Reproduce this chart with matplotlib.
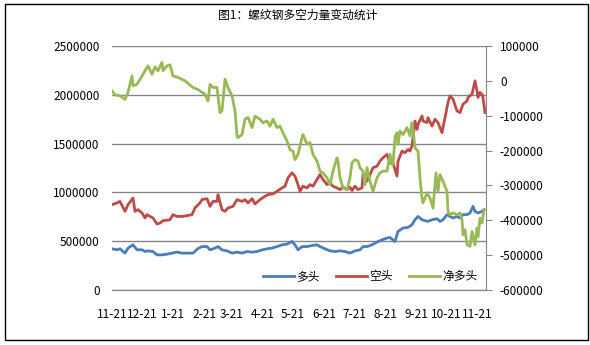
import matplotlib
matplotlib.use("Agg")
import matplotlib.pyplot as plt
import numpy as np
import pandas as pd
from matplotlib.patches import Rectangle

plt.rcParams["font.family"] = ["Noto Sans CJK SC", "DejaVu Sans"]
plt.rcParams["font.size"] = 8.5

# Data: days counted from 2020-11-21
START = pd.Timestamp("2020-11-21")

long_days = [0, 5, 8, 13, 16, 21, 25, 30, 33, 36, 41, 45, 50, 55, 60, 65, 70, 76, 81,
             86, 90, 95, 98, 103, 106, 110, 115, 120, 125, 130, 135, 140, 145, 150,
             155, 160, 165, 170, 175, 180, 183, 186, 190, 195, 200, 205, 208, 213,
             218, 223, 228, 233, 238, 243, 248, 251, 255, 260, 265, 270, 275, 278,
             283, 286, 291, 296, 300, 303, 306, 310, 313, 316, 320, 325, 328, 331,
             335, 338, 341, 345, 348, 351, 355, 358, 361, 363, 366, 370, 372]
long_pos = [422000, 412000, 422000, 378000, 429000, 463000, 412000, 412000, 394000,
            401000, 394000, 360000, 360000, 367000, 378000, 388000, 378000, 378000,
            378000, 425000, 445000, 445000, 411000, 429000, 445000, 411000, 401000,
            378000, 388000, 378000, 394000, 388000, 394000, 411000, 422000, 429000,
            445000, 463000, 470000, 497000, 463000, 411000, 445000, 445000, 456000,
            463000, 445000, 422000, 401000, 394000, 401000, 394000, 378000, 401000,
            411000, 445000, 445000, 463000, 491000, 514000, 532000, 538000, 497000,
            600000, 635000, 641000, 669000, 720000, 754000, 720000, 710000, 703000,
            720000, 730000, 703000, 720000, 772000, 754000, 738000, 754000, 738000,
            772000, 772000, 789000, 857000, 806000, 789000, 806000, 823000]

short_days = [0, 5, 8, 13, 16, 21, 23, 26, 30, 33, 35, 38, 41, 45, 48, 51, 58, 61, 65,
              71, 80, 83, 88, 90, 95, 98, 101, 105, 106, 110, 113, 116, 121, 125, 130,
              133, 136, 140, 143, 148, 153, 156, 161, 165, 170, 173, 176, 180, 183,
              186, 188, 191, 195, 198, 201, 205, 208, 211, 215, 218, 221, 225, 228,
              231, 235, 238, 240, 243, 246, 250, 251, 255, 258, 261, 265, 268, 271,
              275, 278, 281, 285, 286, 290, 293, 296, 298, 300, 301, 303, 305, 306,
              310, 311, 315, 316, 320, 323, 326, 330, 333, 336, 338, 341, 345, 348,
              351, 355, 356, 360, 363, 365, 366, 368, 370, 371, 373]
short_pos = [874000, 892000, 908000, 806000, 874000, 943000, 806000, 823000, 789000,
             738000, 772000, 754000, 738000, 676000, 686000, 710000, 720000, 772000,
             754000, 754000, 772000, 841000, 892000, 926000, 936000, 857000, 908000,
             908000, 977000, 823000, 806000, 841000, 857000, 926000, 908000, 926000,
             892000, 936000, 882000, 926000, 960000, 977000, 985000, 1011000, 1046000,
             1063000, 1149000, 1201000, 1166000, 1080000, 1011000, 1063000, 1046000,
             1080000, 1063000, 1132000, 1183000, 1132000, 1080000, 1098000, 1063000,
             1046000, 1029000, 1052000, 1029000, 1052000, 1019000, 1063000, 1029000,
             1046000, 1183000, 1114000, 1183000, 1252000, 1269000, 1320000, 1355000,
             1389000, 1303000, 1300000, 1166000, 1320000, 1423000, 1406000, 1440000,
             1423000, 1475000, 1561000, 1731000, 1646000, 1697000, 1783000, 1731000,
             1715000, 1766000, 1680000, 1749000, 1715000, 1612000, 1766000, 1921000,
             1989000, 1955000, 1835000, 1818000, 1903000, 1937000, 1972000, 2006000,
             2143000, 2040000, 1972000, 2024000, 2006000, 1972000, 1818000]

net_days = [0, 3, 8, 13, 16, 20, 21, 25, 30, 35, 36, 40, 43, 46, 50, 51, 55, 58, 61,
            66, 73, 81, 86, 90, 93, 96, 98, 101, 105, 108, 110, 113, 116, 120, 123,
            125, 126, 130, 133, 136, 140, 143, 148, 151, 155, 158, 161, 165, 168, 171,
            175, 178, 181, 183, 186, 190, 191, 195, 198, 201, 205, 208, 211, 215, 218,
            221, 225, 226, 228, 231, 235, 238, 240, 243, 246, 248, 251, 253, 255, 258,
            261, 265, 268, 271, 275, 278, 280, 281, 283, 285, 286, 288, 291, 295, 298,
            300, 301, 303, 306, 308, 310, 311, 315, 318, 321, 324, 326, 328, 331, 335,
            336, 338, 341, 345, 348, 350, 351, 353, 355, 358, 360, 363, 365, 366, 368,
            370, 372]
net_pos = [-29000, -40000, -43000, -53000, -33000, 14000, -14000, -10000, 14000, 39000,
           43000, 19000, 40000, 29000, 53000, 29000, 43000, 46000, 14000, 10000, 0,
           -19000, -25000, -33000, -38000, -58000, -10000, -19000, -19000, -91000,
           -86000, 5000, -19000, -43000, -86000, -158000, -163000, -154000, -110000,
           -105000, -134000, -101000, -110000, -120000, -115000, -130000, -110000,
           -134000, -130000, -149000, -173000, -197000, -202000, -226000, -211000,
           -163000, -154000, -182000, -177000, -211000, -230000, -259000, -264000,
           -278000, -298000, -259000, -221000, -230000, -278000, -307000, -312000,
           -278000, -235000, -226000, -230000, -249000, -259000, -298000, -249000,
           -288000, -317000, -278000, -264000, -259000, -259000, -211000, -240000,
           -240000, -161000, -149000, -182000, -144000, -154000, -134000, -158000,
           -120000, -139000, -192000, -202000, -278000, -336000, -350000, -321000,
           -336000, -365000, -264000, -317000, -269000, -288000, -317000, -374000,
           -384000, -379000, -384000, -379000, -398000, -442000, -427000, -470000,
           -475000, -432000, -470000, -422000, -447000, -394000, -408000, -370000]

tick_labels = ["11-21", "12-21", "1-21", "2-21", "3-21", "4-21", "5-21", "6-21",
               "7-21", "8-21", "9-21", "10-21", "11-21"]
series_names = ["多头", "空头", "净多头"]
colors = ["#4A7EBB", "#BE4B48", "#98B954"]


def to_dates(days):
    return START + pd.to_timedelta(days, unit="D")


fig = plt.figure(figsize=(5.9, 3.45), dpi=100)
ax = fig.add_axes([112 / 590, 1 - 290 / 345, 374 / 590, 244 / 345])
ax2 = ax.twinx()

l1, = ax.plot(to_dates(long_days), long_pos, color=colors[0], lw=2)
l2, = ax.plot(to_dates(short_days), short_pos, color=colors[1], lw=2)
l3, = ax2.plot(to_dates(net_days), net_pos, color=colors[2], lw=2)

# left axis
ax.set_ylim(0, 2500000)
ax.set_yticks(np.arange(0, 2500001, 500000))
ax.set_yticklabels([str(v) for v in range(0, 2500001, 500000)])
ax.yaxis.grid(True, color="#868686", lw=1)
ax.set_axisbelow(True)
ax.tick_params(axis="y", length=0, pad=9)

# right axis
ax2.set_ylim(-600000, 100000)
ax2.set_yticks(np.arange(-600000, 100001, 100000))
ax2.set_yticklabels([str(v) for v in range(-600000, 100001, 100000)])
ax2.tick_params(axis="y", length=4, color="#868686", pad=6)

# x axis
ticks = pd.date_range(START, periods=13, freq=pd.DateOffset(months=1))
ax.set_xlim(START, START + pd.Timedelta(days=374))
ax.set_xticks(ticks)
ax.set_xticklabels(tick_labels)
ax.tick_params(axis="x", length=0, pad=13)

for a in (ax, ax2):
    for side in ("top", "left"):
        a.spines[side].set_visible(False)
    a.spines["bottom"].set_color("#868686")
    a.spines["right"].set_color("#868686")
ax.spines["right"].set_visible(False)

ax2.legend([l1, l2, l3], series_names, loc="lower center", bbox_to_anchor=(0.69, -0.015),
           ncol=3, frameon=False, handlelength=2.6, handletextpad=0.2,
           columnspacing=1.4, fontsize=8.5)

fig.text(298 / 590, 1 - 15 / 345, "图1：螺纹钢多空力量变动统计", ha="center",
         va="center", fontsize=8.5)

fig.add_artist(Rectangle((5 / 590, 1 - 340 / 345), 583 / 590, 336 / 345,
                         transform=fig.transFigure, fill=False,
                         edgecolor="black", lw=1))

fig.savefig("out.png", dpi=100)
